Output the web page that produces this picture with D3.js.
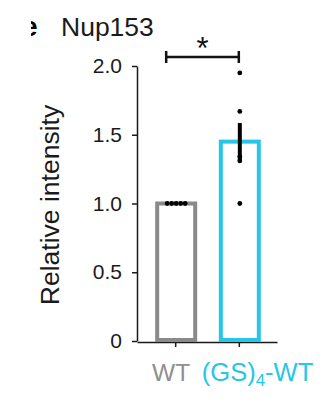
<!DOCTYPE html>
<html>
<head>
<meta charset="utf-8">
<script src="https://cdn.jsdelivr.net/npm/d3@7"></script>
<style>
  html, body { margin: 0; padding: 0; background: #fff; }
  svg { display: block; font-family: "Liberation Sans", Arial, sans-serif; }
</style>
</head>
<body>
<svg id="chart" width="329" height="403"></svg>
<script>
// Nup153 relative intensity, WT vs (GS)4-WT
const categories = ["WT", "(GS)4-WT"];
const barMeans = [1.0, 1.45];
const barSem = [0, 0.135];
const pointsWT = [1.0, 1.0, 1.0, 1.0, 1.0];
const pointsGS = [1.95, 1.67, 1.34, 1.31, 1.0];
const yTicks = [0, 0.5, 1.0, 1.5, 2.0];
const yTickLabels = ["0", "0.5", "1.0", "1.5", "2.0"];
const barColors = ["#8a8a8a", "#27c6e6"];
const title = "Nup153";
const yLabel = "Relative intensity";
const sigLabel = "*";

const svg = d3.select("#chart");
svg.append("rect").attr("width", 329).attr("height", 403).attr("fill", "#fff");

const y = d3.scaleLinear().domain([0, 2]).range([341, 66]);
const x = d3.scalePoint().domain(categories).range([137, 277]).padding(0.6);

const ink = "#1a1a1a";

// clipped panel letter at the far left
const clip = svg.append("defs").append("clipPath").attr("id", "panelClip");
clip.append("rect").attr("x", 31).attr("y", 0).attr("width", 20).attr("height", 60);
svg.append("text")
  .attr("clip-path", "url(#panelClip)")
  .attr("x", 22).attr("y", 36)
  .attr("font-size", 28).attr("font-weight", "bold")
  .attr("fill", "#000")
  .text("e");

// title
svg.append("text")
  .attr("x", 61).attr("y", 36)
  .attr("font-size", 26.5)
  .attr("fill", ink)
  .text(title);

// y axis
const yAxis = svg.append("g")
  .attr("transform", "translate(137,0)")
  .call(d3.axisLeft(y).tickValues(yTicks)
    .tickFormat((d, i) => yTickLabels[i])
    .tickSize(5).tickSizeOuter(0).tickPadding(10));
yAxis.select(".domain").attr("stroke", ink).attr("stroke-width", 1.5);
yAxis.selectAll(".tick line").attr("stroke", ink).attr("stroke-width", 1.5);
yAxis.selectAll(".tick text")
  .attr("font-size", 21)
  .attr("fill", ink)
  .attr("font-family", "Liberation Sans, Arial, sans-serif");

// y label
svg.append("text")
  .attr("transform", "translate(59,205) rotate(-90)")
  .attr("text-anchor", "middle")
  .attr("font-size", 26.5)
  .attr("fill", ink)
  .text(yLabel);

// x axis
const xAxis = svg.append("g")
  .attr("transform", "translate(0,342)")
  .call(d3.axisBottom(x).tickFormat("").tickSize(5).tickSizeOuter(0));
xAxis.select(".domain").attr("stroke", ink).attr("stroke-width", 1.5);
xAxis.selectAll(".tick line").attr("stroke", ink).attr("stroke-width", 1.5);

// bars (outlined)
const barW = 38;
svg.selectAll("rect.bar")
  .data(categories)
  .join("rect")
  .attr("class", "bar")
  .attr("x", (d) => x(d) - barW / 2 + 1)
  .attr("y", (d, i) => y(barMeans[i]))
  .attr("width", barW)
  .attr("height", (d, i) => y(0) - y(barMeans[i]) - 1)
  .attr("fill", "#fff")
  .attr("stroke", (d, i) => barColors[i])
  .attr("stroke-width", 4);

// error bars (mean ± SEM)
svg.selectAll("line.err")
  .data(categories.filter((d, i) => barSem[i] > 0))
  .join("line")
  .attr("class", "err")
  .attr("x1", (d) => x(d) + 1)
  .attr("x2", (d) => x(d) + 1)
  .attr("y1", (d) => y(barMeans[categories.indexOf(d)] + barSem[categories.indexOf(d)]))
  .attr("y2", (d) => y(barMeans[categories.indexOf(d)] - barSem[categories.indexOf(d)]))
  .attr("stroke", "#000")
  .attr("stroke-width", 4);

// individual replicates
const spread = 4.5;
const dotsWT = pointsWT.map((v, i) => ({ cx: x("WT") + 1 + (i - (pointsWT.length - 1) / 2) * spread, v }));
const dotsGS = pointsGS.map((v) => ({ cx: x("(GS)4-WT") + 1, v }));
svg.selectAll("circle.pt")
  .data(dotsWT.concat(dotsGS))
  .join("circle")
  .attr("class", "pt")
  .attr("cx", (d) => d.cx)
  .attr("cy", (d) => y(d.v))
  .attr("r", 2.4)
  .attr("fill", "#000");

// significance bracket
const bx1 = x("WT") - 9, bx2 = x("(GS)4-WT");
const by = 57;
const br = svg.append("g").attr("stroke", "#111").attr("stroke-width", 2.5).attr("fill", "none");
br.append("line").attr("x1", bx1).attr("x2", bx2).attr("y1", by).attr("y2", by);
br.append("line").attr("x1", bx1).attr("x2", bx1).attr("y1", by - 6).attr("y2", by + 6);
br.append("line").attr("x1", bx2).attr("x2", bx2).attr("y1", by - 6).attr("y2", by + 6);
svg.append("text")
  .attr("x", (bx1 + bx2) / 2).attr("y", 59)
  .attr("text-anchor", "middle")
  .attr("font-size", 31)
  .attr("fill", "#111")
  .text(sigLabel);

// category labels
const lblY = 381;
svg.append("text")
  .attr("x", x("WT") + 15).attr("y", lblY)
  .attr("text-anchor", "end")
  .attr("font-size", 24.5)
  .attr("fill", "#8f8f8f")
  .text("WT");
const gsLbl = svg.append("text")
  .attr("x", x("(GS)4-WT") - 37).attr("y", lblY)
  .attr("font-size", 25.5)
  .attr("fill", barColors[1]);
gsLbl.append("tspan").text("(GS)");
gsLbl.append("tspan").attr("font-size", 17).attr("dy", 5).text("4");
gsLbl.append("tspan").attr("dy", -5).text("-WT");
</script>
</body>
</html>
